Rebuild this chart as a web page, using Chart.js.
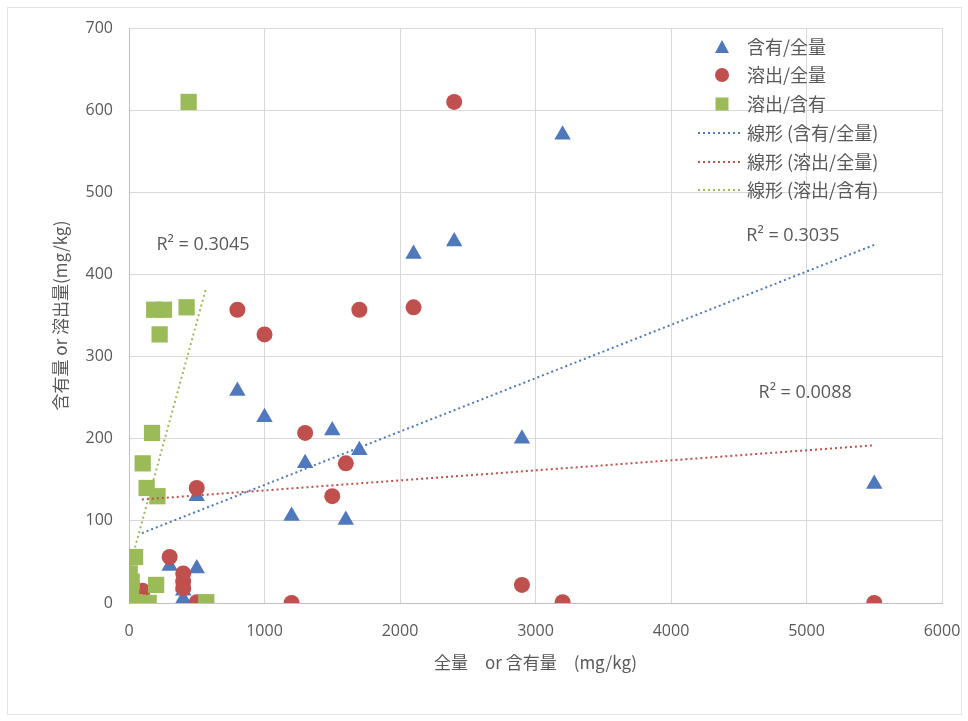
<!DOCTYPE html>
<html>
<head>
<meta charset="utf-8">
<script src="https://cdn.jsdelivr.net/npm/chart.js@4.4.0/dist/chart.umd.min.js"></script>
<style>
  html, body { margin: 0; padding: 0; background: #fff; }
</style>
</head>
<body>
<canvas id="myChart" width="968" height="721"></canvas>
<script>
// 全量 / 含有量 / 溶出量 per sample (mg/kg)
const totals    = [3200, 2400, 2100, 2900, 5500, 800, 1000, 1500, 1700, 1300, 1200, 1600, 500, 500, 300, 400, 400, 400, 100];
const contents  = [570,  440,  425,  200,  145,  258, 226,  210,  186,  170,  106,  101,  130, 42,  45,  5,   20,  15,  10];
const dissolved = [1,    610,  360,  22,   0,    357, 327,  130,  357,  207,  0,    170,  140, 1,   56,  36,  26,  18,  15];

// trendline end points
const trendContentX = [95, 5500];
const trendContentY = [85, 436];
const trendDissolvedX = [95, 5500];
const trendDissolvedY = [126, 192];
const trendRatioX = [5, 570];
const trendRatioY = [44, 384];

const r2Texts = ['R\u00B2 = 0.3045', 'R\u00B2 = 0.3035', 'R\u00B2 = 0.0088'];

const xTicks = [0, 1000, 2000, 3000, 4000, 5000, 6000];
const yTicks = [0, 100, 200, 300, 400, 500, 600, 700];

const blue = '#4f78bd';
const red = '#c0504d';
const green = '#9bbb59';
const textGray = '#595959';
const latin = "'Open Sans', 'Noto Sans CJK JP', sans-serif";
const cjk = "'Noto Sans CJK JP', 'Open Sans', sans-serif";

function pts(xs, ys) {
  return xs.map(function(v, i) { return { x: v, y: ys[i] }; });
}

// white background + faint outer frame
const framePlugin = {
  id: 'frame',
  beforeDraw: function(chart) {
    const ctx = chart.ctx;
    ctx.save();
    ctx.fillStyle = '#fff';
    ctx.fillRect(0, 0, chart.width, chart.height);
    ctx.strokeStyle = '#e3e3e3';
    ctx.lineWidth = 1;
    ctx.strokeRect(7.5, 7.5, chart.width - 14, chart.height - 14);
    ctx.restore();
  }
};

// R² labels placed in data coordinates
const r2Plugin = {
  id: 'r2labels',
  afterDatasetsDraw: function(chart) {
    const ctx = chart.ctx;
    const xs = chart.scales.x, ys = chart.scales.y;
    const spots = [[546, 436], [4900, 447], [4990, 256]];
    ctx.save();
    ctx.fillStyle = textGray;
    ctx.font = '18px ' + latin;
    ctx.textAlign = 'center';
    ctx.textBaseline = 'middle';
    r2Texts.forEach(function(t, i) {
      ctx.fillText(t, xs.getPixelForValue(spots[i][0]), ys.getPixelForValue(spots[i][1]));
    });
    ctx.restore();
  }
};

// legend drawn inside the plot, upper right
const legendPlugin = {
  id: 'innerLegend',
  afterDraw: function(chart) {
    const ctx = chart.ctx;
    const rowsY = [47, 75, 104, 133, 162, 190];
    const markX = 722, textX = 747;
    ctx.save();
    chart.data.datasets.forEach(function(ds, i) {
      const y = rowsY[i];
      if (ds.type === 'line') {
        ctx.strokeStyle = ds.borderColor;
        ctx.lineWidth = 2;
        ctx.setLineDash([2, 3]);
        ctx.beginPath();
        ctx.moveTo(698, y);
        ctx.lineTo(743, y);
        ctx.stroke();
        ctx.setLineDash([]);
      } else {
        ctx.fillStyle = ds.backgroundColor;
        ctx.beginPath();
        if (ds.pointStyle === 'triangle') {
          ctx.moveTo(markX, y - 7);
          ctx.lineTo(markX + 7, y + 6);
          ctx.lineTo(markX - 7, y + 6);
          ctx.closePath();
        } else if (ds.pointStyle === 'circle') {
          ctx.arc(markX, y, 7, 0, Math.PI * 2);
        } else {
          ctx.rect(markX - 6.5, y - 6.5, 13, 13);
        }
        ctx.fill();
      }
      ctx.fillStyle = textGray;
      ctx.font = '18px ' + cjk;
      ctx.textAlign = 'left';
      ctx.textBaseline = 'middle';
      ctx.fillText(ds.label, textX, y);
    });
    ctx.restore();
  }
};

new Chart(document.getElementById('myChart'), {
  type: 'scatter',
  data: {
    datasets: [
      { label: '含有/全量', data: pts(totals, contents), pointStyle: 'triangle', pointRadius: 9.5,
        backgroundColor: blue, borderColor: blue, borderWidth: 0, order: 3 },
      { label: '溶出/全量', data: pts(totals, dissolved), pointStyle: 'circle', pointRadius: 8,
        backgroundColor: red, borderColor: red, borderWidth: 0, order: 2 },
      { label: '溶出/含有', data: pts(contents, dissolved), pointStyle: 'rect', pointRadius: 11.5,
        backgroundColor: green, borderColor: green, borderWidth: 0, order: 1 },
      { type: 'line', label: '線形 (含有/全量)', data: pts(trendContentX, trendContentY),
        borderColor: blue, borderWidth: 2, borderDash: [2, 3], pointRadius: 0, fill: false, order: 0 },
      { type: 'line', label: '線形 (溶出/全量)', data: pts(trendDissolvedX, trendDissolvedY),
        borderColor: red, borderWidth: 2, borderDash: [2, 3], pointRadius: 0, fill: false, order: 0 },
      { type: 'line', label: '線形 (溶出/含有)', data: pts(trendRatioX, trendRatioY),
        borderColor: green, borderWidth: 2, borderDash: [2, 3], pointRadius: 0, fill: false, order: 0 }
    ]
  },
  options: {
    responsive: false,
    animation: false,
    layout: { padding: { left: 46, top: 28, right: 26, bottom: 44 } },
    plugins: {
      legend: { display: false },
      tooltip: { enabled: false }
    },
    scales: {
      x: {
        type: 'linear',
        min: 0,
        max: 6000,
        afterFit: function(scale) {
          scale.height = 74;
          scale.paddingLeft = 0;
          scale.paddingRight = 0;
        },
        afterBuildTicks: function(scale) { scale.ticks = xTicks.map(function(v) { return { value: v }; }); },
        grid: { color: '#d9d9d9', drawTicks: false },
        border: { color: '#bfbfbf' },
        ticks: { color: textGray, font: { family: latin, size: 16 }, padding: 19,
                 callback: function(v) { return String(v); } },
        title: { display: true, text: '全量　or 含有量　(mg/kg)', color: textGray,
                 font: { family: cjk, size: 17 } }
      },
      y: {
        type: 'linear',
        min: 0,
        max: 700,
        afterFit: function(scale) { scale.width = 83; },
        afterBuildTicks: function(scale) { scale.ticks = yTicks.map(function(v) { return { value: v }; }); },
        grid: { color: '#d9d9d9', drawTicks: false },
        border: { color: '#bfbfbf' },
        ticks: { color: textGray, font: { family: latin, size: 16 }, padding: 16,
                 callback: function(v) { return String(v); } },
        title: { display: true, text: '含有量 or 溶出量(mg/kg)', color: textGray,
                 font: { family: cjk, size: 17 } }
      }
    }
  },
  plugins: [framePlugin, r2Plugin, legendPlugin]
});
</script>
</body>
</html>
